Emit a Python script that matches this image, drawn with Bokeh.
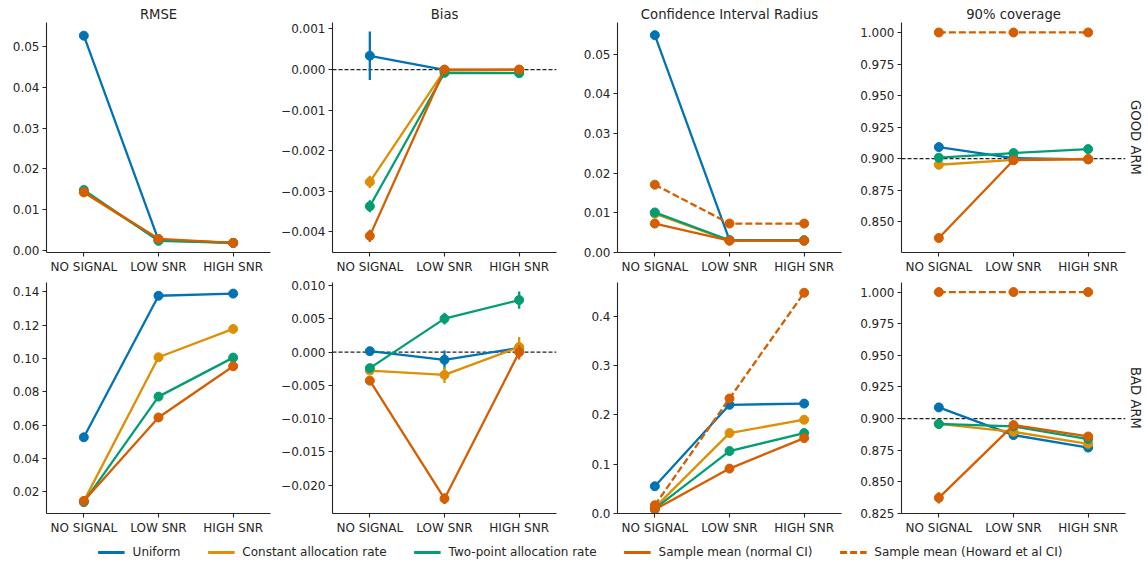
from bokeh.plotting import figure
from bokeh.models import (FactorRange, Range1d, FixedTicker, Span, Title, Legend,
                          LegendItem, ColumnDataSource)
from bokeh.layouts import column, row
from bokeh.embed import file_html
from bokeh.resources import INLINE

# ---------------- data ----------------
CATEGORIES = ["NO SIGNAL", "LOW SNR", "HIGH SNR"]
METHODS = ["Uniform", "Constant allocation rate", "Two-point allocation rate",
           "Sample mean (normal CI)", "Sample mean (Howard et al CI)"]
METRICS = ["RMSE", "Bias", "Confidence Interval Radius", "90% coverage"]
ARMS = ["GOOD ARM", "BAD ARM"]
BIAS_REFERENCE = 0.0
NOMINAL_COVERAGE = 0.9

# GOOD ARM
good_rmse = {
    "Uniform": [0.0527, 0.0025, 0.0018],
    "Constant allocation rate": [0.0142, 0.0026, 0.0018],
    "Two-point allocation rate": [0.0148, 0.0023, 0.0018],
    "Sample mean (normal CI)": [0.0143, 0.0028, 0.0018],
}
good_rmse_err = {
    "Uniform": [0.0009, 0.0003, 0.0001],
    "Constant allocation rate": [0.0004, 0.0002, 0.0001],
    "Two-point allocation rate": [0.0004, 0.0002, 0.0001],
    "Sample mean (normal CI)": [0.0004, 0.0002, 0.0001],
}
good_bias = {
    "Uniform": [0.00034, -0.00001, -0.00001],
    "Constant allocation rate": [-0.00277, -0.00002, -0.00001],
    "Two-point allocation rate": [-0.00337, -0.00008, -0.00009],
    "Sample mean (normal CI)": [-0.00410, 0.0, 0.0],
}
good_bias_err = {
    "Uniform": [0.0006, 0.00003, 0.00002],
    "Constant allocation rate": [0.00015, 0.00002, 0.00002],
    "Two-point allocation rate": [0.00015, 0.00002, 0.00002],
    "Sample mean (normal CI)": [0.00015, 0.00002, 0.00002],
}
good_ci = {
    "Uniform": [0.0548, 0.0031, 0.0030],
    "Constant allocation rate": [0.0098, 0.0030, 0.0030],
    "Two-point allocation rate": [0.0101, 0.0031, 0.0031],
    "Sample mean (normal CI)": [0.0073, 0.0030, 0.0030],
    "Sample mean (Howard et al CI)": [0.0171, 0.0073, 0.0073],
}
good_ci_err = {
    "Uniform": [0.0001, 0.00005, 0.00005],
    "Constant allocation rate": [0.00005, 0.00005, 0.00005],
    "Two-point allocation rate": [0.00005, 0.00005, 0.00005],
    "Sample mean (normal CI)": [0.00005, 0.00005, 0.00005],
    "Sample mean (Howard et al CI)": [0.00005, 0.00005, 0.00005],
}
good_cov = {
    "Uniform": [0.9092, 0.9005, 0.8995],
    "Constant allocation rate": [0.8952, 0.8990, 0.8998],
    "Two-point allocation rate": [0.9008, 0.9045, 0.9076],
    "Sample mean (normal CI)": [0.8372, 0.8988, 0.8996],
    "Sample mean (Howard et al CI)": [1.0, 1.0, 1.0],
}
good_cov_err = {
    "Uniform": [0.003, 0.002, 0.002],
    "Constant allocation rate": [0.003, 0.002, 0.002],
    "Two-point allocation rate": [0.002, 0.002, 0.0025],
    "Sample mean (normal CI)": [0.003, 0.002, 0.002],
    "Sample mean (Howard et al CI)": [0.0, 0.0, 0.0],
}

# BAD ARM
bad_rmse = {
    "Uniform": [0.0527, 0.1376, 0.1389],
    "Constant allocation rate": [0.0144, 0.1007, 0.1177],
    "Two-point allocation rate": [0.0138, 0.0771, 0.1005],
    "Sample mean (normal CI)": [0.0145, 0.0646, 0.0953],
}
bad_rmse_err = {
    "Uniform": [0.0005, 0.0006, 0.0006],
    "Constant allocation rate": [0.0003, 0.0005, 0.0005],
    "Two-point allocation rate": [0.0003, 0.0005, 0.0005],
    "Sample mean (normal CI)": [0.0003, 0.0005, 0.0005],
}
bad_bias = {
    "Uniform": [0.00015, -0.00115, 0.00065],
    "Constant allocation rate": [-0.00277, -0.00342, 0.00078],
    "Two-point allocation rate": [-0.00240, 0.00505, 0.00785],
    "Sample mean (normal CI)": [-0.00428, -0.02205, 0.0],
}
bad_bias_err = {
    "Uniform": [0.00065, 0.0014, 0.0008],
    "Constant allocation rate": [0.0003, 0.0012, 0.0015],
    "Two-point allocation rate": [0.0004, 0.0009, 0.0013],
    "Sample mean (normal CI)": [0.0003, 0.0008, 0.0011],
}
bad_ci = {
    "Uniform": [0.0553, 0.2206, 0.2231],
    "Constant allocation rate": [0.0120, 0.1632, 0.1903],
    "Two-point allocation rate": [0.0100, 0.1267, 0.1632],
    "Sample mean (normal CI)": [0.0080, 0.0911, 0.1530],
    "Sample mean (Howard et al CI)": [0.0168, 0.2334, 0.4480],
}
bad_ci_err = {
    "Uniform": [0.0005, 0.002, 0.001],
    "Constant allocation rate": [0.0003, 0.001, 0.001],
    "Two-point allocation rate": [0.0003, 0.001, 0.001],
    "Sample mean (normal CI)": [0.0003, 0.001, 0.001],
    "Sample mean (Howard et al CI)": [0.0003, 0.001, 0.001],
}
bad_cov = {
    "Uniform": [0.9088, 0.8869, 0.8770],
    "Constant allocation rate": [0.8958, 0.8895, 0.8800],
    "Two-point allocation rate": [0.8957, 0.8938, 0.8838],
    "Sample mean (normal CI)": [0.8373, 0.8948, 0.8858],
    "Sample mean (Howard et al CI)": [1.0, 1.0, 1.0],
}
bad_cov_err = {
    "Uniform": [0.0035, 0.003, 0.003],
    "Constant allocation rate": [0.003, 0.003, 0.003],
    "Two-point allocation rate": [0.003, 0.003, 0.003],
    "Sample mean (normal CI)": [0.0045, 0.003, 0.003],
    "Sample mean (Howard et al CI)": [0.0, 0.0, 0.0],
}

# tick values and labels
good_rmse_ticks = [0.00, 0.01, 0.02, 0.03, 0.04, 0.05]
good_rmse_labels = ["0.00", "0.01", "0.02", "0.03", "0.04", "0.05"]
good_bias_ticks = [0.001, 0.0, -0.001, -0.002, -0.003, -0.004]
good_bias_labels = ["0.001", "0.000", "\u22120.001", "\u22120.002", "\u22120.003", "\u22120.004"]
good_ci_ticks = [0.00, 0.01, 0.02, 0.03, 0.04, 0.05]
good_ci_labels = ["0.00", "0.01", "0.02", "0.03", "0.04", "0.05"]
good_cov_ticks = [0.850, 0.875, 0.900, 0.925, 0.950, 0.975, 1.000]
good_cov_labels = ["0.850", "0.875", "0.900", "0.925", "0.950", "0.975", "1.000"]
bad_rmse_ticks = [0.02, 0.04, 0.06, 0.08, 0.10, 0.12, 0.14]
bad_rmse_labels = ["0.02", "0.04", "0.06", "0.08", "0.10", "0.12", "0.14"]
bad_bias_ticks = [0.010, 0.005, 0.0, -0.005, -0.010, -0.015, -0.020]
bad_bias_labels = ["0.010", "0.005", "0.000", "\u22120.005", "\u22120.010", "\u22120.015", "\u22120.020"]
bad_ci_ticks = [0.0, 0.1, 0.2, 0.3, 0.4]
bad_ci_labels = ["0.0", "0.1", "0.2", "0.3", "0.4"]
bad_cov_ticks = [0.825, 0.850, 0.875, 0.900, 0.925, 0.950, 0.975, 1.000]
bad_cov_labels = ["0.825", "0.850", "0.875", "0.900", "0.925", "0.950", "0.975", "1.000"]

# ---------------- style / layout ----------------
COLORS = ["#0173B2", "#DE8F05", "#029E73", "#D55E00", "#D55E00"]
DASHES = ["solid", "solid", "solid", "solid", "7 3"]
FONT = "DejaVu Sans"
TEXT = "#262626"

# y limits (axis extents)
Y_LIMITS = {
    ("GOOD ARM", "RMSE"): (-0.00056, 0.05594),
    ("GOOD ARM", "Bias"): (-0.00451, 0.00116),
    ("GOOD ARM", "Confidence Interval Radius"): (0.0, 0.058),
    ("GOOD ARM", "90% coverage"): (0.8257, 1.0079),
    ("BAD ARM", "RMSE"): (0.00698, 0.14556),
    ("BAD ARM", "Bias"): (-0.02428, 0.01049),
    ("BAD ARM", "Confidence Interval Radius"): (0.0, 0.4688),
    ("BAD ARM", "90% coverage"): (0.8249, 1.00757),
}

PANELS = {
    "GOOD ARM": [
        (good_rmse, good_rmse_err, good_rmse_ticks, good_rmse_labels),
        (good_bias, good_bias_err, good_bias_ticks, good_bias_labels),
        (good_ci, good_ci_err, good_ci_ticks, good_ci_labels),
        (good_cov, good_cov_err, good_cov_ticks, good_cov_labels),
    ],
    "BAD ARM": [
        (bad_rmse, bad_rmse_err, bad_rmse_ticks, bad_rmse_labels),
        (bad_bias, bad_bias_err, bad_bias_ticks, bad_bias_labels),
        (bad_ci, bad_ci_err, bad_ci_ticks, bad_ci_labels),
        (bad_cov, bad_cov_err, bad_cov_ticks, bad_cov_labels),
    ],
}

COL_WIDTHS = [274, 286, 285, 303]
BORDER_LEFT = [46, 58, 57, 56]
BORDER_RIGHT = [4, 4, 4, 23]
ROW_HEIGHTS = [276, 262]
BORDER_TOP = [22, 6]
BORDER_BOTTOM = [23, 25]


def make_panel(ri, ci):
    arm = ARMS[ri]
    metric = METRICS[ci]
    means, errs, ticks, labels = PANELS[arm][ci]
    lo, hi = Y_LIMITS[(arm, metric)]
    p = figure(width=COL_WIDTHS[ci], height=ROW_HEIGHTS[ri],
               x_range=FactorRange(factors=CATEGORIES),
               y_range=Range1d(lo, hi),
               output_backend="svg", toolbar_location=None,
               min_border_left=BORDER_LEFT[ci], min_border_right=BORDER_RIGHT[ci],
               min_border_top=BORDER_TOP[ri], min_border_bottom=BORDER_BOTTOM[ri],
               title=metric if ri == 0 else None)
    p.outline_line_color = None
    p.xgrid.visible = False
    p.ygrid.visible = False
    p.background_fill_color = "white"
    p.border_fill_color = "white"
    if ri == 0:
        p.title.text_font = FONT
        p.title.text_font_size = "13.2px"
        p.title.text_font_style = "normal"
        p.title.text_color = TEXT
        p.title.align = "center"
        p.title.standoff = 2
    for ax in (p.xaxis[0], p.yaxis[0]):
        ax.axis_line_color = TEXT
        ax.axis_line_width = 1.1
        ax.major_tick_line_color = TEXT
        ax.major_tick_line_width = 1.1
        ax.major_tick_out = 4
        ax.major_tick_in = 0
        ax.minor_tick_line_color = None
        ax.major_label_text_font = FONT
        ax.major_label_text_font_size = "12px"
        ax.major_label_text_color = TEXT
        ax.major_label_standoff = 3
    p.yaxis.ticker = FixedTicker(ticks=ticks)
    p.yaxis.major_label_overrides = dict(zip(ticks, labels))

    if metric == "Bias":
        p.add_layout(Span(location=BIAS_REFERENCE, dimension="width", line_color="#222222",
                          line_width=1.2, line_dash="4 2", level="underlay"))
    if metric == "90% coverage":
        p.add_layout(Span(location=NOMINAL_COVERAGE, dimension="width", line_color="#222222",
                          line_width=1.2, line_dash="4 2", level="underlay"))

    for m, color, dash in zip(METHODS, COLORS, DASHES):
        if m not in means:
            continue
        y = means[m]
        e = errs[m]
        src = ColumnDataSource(dict(x=CATEGORIES, y=y,
                                    lo=[a - b for a, b in zip(y, e)],
                                    hi=[a + b for a, b in zip(y, e)]))
        p.line("x", "y", source=src, line_color=color, line_width=2.3, line_dash=dash)
        p.segment(x0="x", y0="lo", x1="x", y1="hi", source=src, line_color=color, line_width=2.3)
        p.scatter("x", "y", source=src, size=9, fill_color=color, line_color=color)

    if ci == 3:
        p.add_layout(Title(text=arm, align="center", text_font=FONT, text_font_size="13.2px",
                           text_font_style="normal", text_color=TEXT, standoff=4), "right")
    return p


rows = []
for ri in range(2):
    rows.append(row(*[make_panel(ri, ci) for ci in range(4)]))

# legend strip
lg = figure(width=1148, height=27, output_backend="svg", toolbar_location=None,
            x_range=Range1d(0, 1), y_range=Range1d(0, 1), min_border=0,
            min_border_left=12)
lg.axis.visible = False
lg.xgrid.visible = False
lg.ygrid.visible = False
lg.outline_line_color = None
items = []
nan = float("nan")
for m, color, dash in zip(METHODS, COLORS, DASHES):
    r = lg.line(x=[nan, nan], y=[nan, nan], line_color=color, line_width=2.8, line_dash=dash)
    items.append(LegendItem(label=m, renderers=[r]))
legend = Legend(items=items, orientation="horizontal", location="center",
                glyph_width=27, glyph_height=14, label_height=14, label_standoff=8,
                spacing=27, padding=0, margin=0, border_line_color=None,
                background_fill_alpha=0, label_text_font=FONT,
                label_text_font_size="12px", label_text_color=TEXT)
lg.add_layout(legend, "center")

layout = column(rows[0], rows[1], lg)
open("out.html", "w").write(file_html(layout, INLINE))
